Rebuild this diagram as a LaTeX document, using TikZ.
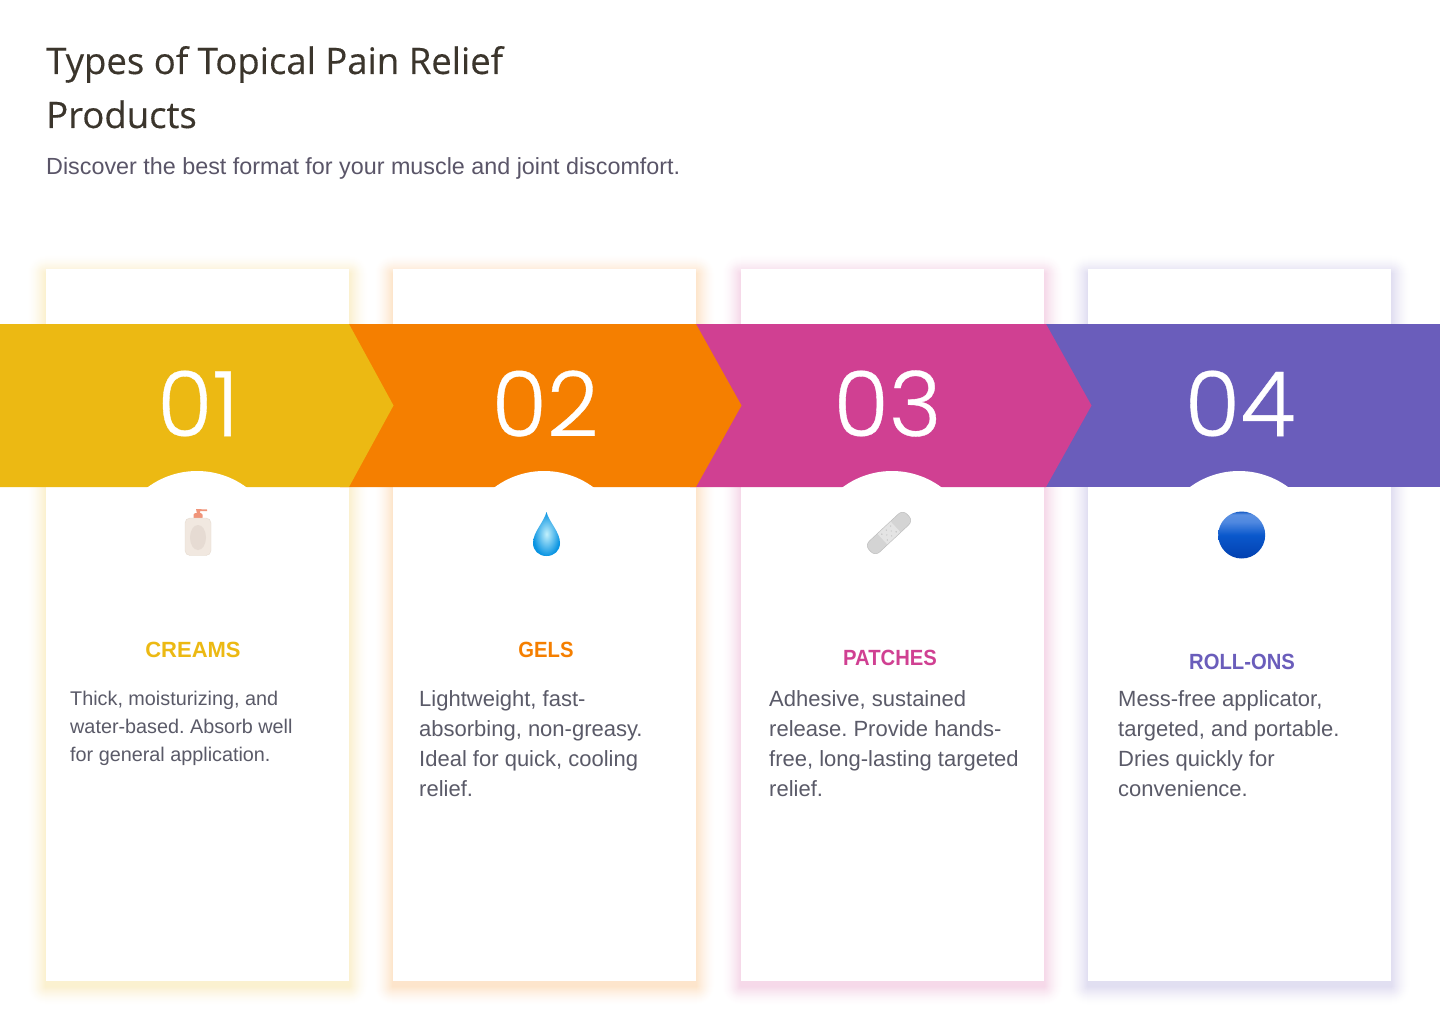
\documentclass[tikz,border=0pt]{standalone}
\usepackage{fontspec}
\setmainfont{Liberation Sans}
\frenchspacing
\newfontfamily\titlefont[FakeBold=0.25]{Open Sans}
\newfontfamily\numfont[UprightFont=* Light,FakeBold=0.4]{Poppins}
\newfontfamily\headfont[FakeStretch=0.92,UprightFont=* Bold]{Liberation Sans}
\newfontfamily\headwide[UprightFont=* Bold]{Liberation Sans}
\definecolor{cyel}{HTML}{ECB913}
\definecolor{cora}{HTML}{F57F00}
\definecolor{cmag}{HTML}{D04092}
\definecolor{cpur}{HTML}{6A5DBB}
\definecolor{ctitle}{HTML}{3B352C}
\definecolor{csub}{HTML}{5A5568}
\definecolor{cbody}{HTML}{5A5A68}
\definecolor{pump}{HTML}{F0957A}
\definecolor{bottlebody}{HTML}{F1E8E0}
\definecolor{bottleedge}{HTML}{E6DBD0}
\definecolor{bottleoval}{HTML}{E6DBD3}
\definecolor{dropin}{HTML}{C2F0FC}
\definecolor{dropout}{HTML}{0A94E2}
\definecolor{bandcol}{HTML}{D4D4D4}
\definecolor{bandedge}{HTML}{BEBEBE}
\definecolor{padcol}{HTML}{E4E4E4}
\definecolor{dotcol}{HTML}{A8A8A8}
\definecolor{ballA}{HTML}{0240B0}
\definecolor{ballB}{HTML}{0A58CC}
\definecolor{ballC}{HTML}{4F88E0}
\definecolor{ballD}{HTML}{5A90E2}
\definecolor{ballE}{HTML}{1459C4}
\pgfdeclareverticalshading{ballsh}{100bp}{
  color(0bp)=(ballA);
  color(25bp)=(ballA);
  color(50bp)=(ballB);
  color(64bp)=(ballC);
  color(72bp)=(ballD);
  color(75bp)=(ballE);
  color(100bp)=(ballE)}
\tikzset{
  x=1pt,y=-1pt,
  numtext/.style={text=white,inner sep=0pt,font=\numfont\fontsize{90}{90}\selectfont},
  headtext/.style={inner sep=0pt,font=\headfont\fontsize{22}{26}\selectfont},
  bodytext/.style={text=cbody,inner sep=0pt,anchor=north west,align=left,font=\fontsize{22}{30}\selectfont},
  smalltext/.style={text=cbody,inner sep=0pt,anchor=north west,align=left,font=\fontsize{19.8}{28}\selectfont},
}
\newcommand{\cardshadow}[3]{% left, right, colour
  \foreach \r in {18,17,...,1}{
    \pgfmathsetmacro{\p}{20*(1-(\r-1)/18)^1.5}
    \fill[#3!\p!white,rounded corners=\r pt] (#1-\r,269+5-\r) rectangle (#2+\r,981+5+\r);
  }
  \fill[white] (#1,269) rectangle (#2,981);
}
\begin{document}
\begin{tikzpicture}
\useasboundingbox (0,0) rectangle (1440,1024);
\fill[white] (0,0) rectangle (1440,1024);
\cardshadow{46}{349}{cyel}
\cardshadow{393}{696}{cora}
\cardshadow{741}{1044}{cmag}
\cardshadow{1088}{1391}{cpur}
% chevrons
\fill[cpur] (1040,324) -- (1440,324) -- (1440,487) -- (1040,487) -- cycle;
\fill[cmag] (690,324) -- (1046,324) -- (1091.5,405.5) -- (1046,487) -- (690,487) -- cycle;
\fill[cora] (340,324) -- (696,324) -- (741.5,405.5) -- (696,487) -- (340,487) -- cycle;
\fill[cyel] (0,324) -- (349,324) -- (393.5,405.5) -- (349,487) -- (0,487) -- cycle;
% white arcs
\foreach \c in {197,544,892,1239}{
  \fill[white] (\c,554) circle[radius=83];
}
% title
\node[anchor=base west,inner sep=0pt,text=ctitle,font=\titlefont\fontsize{36.5}{54}\selectfont] (title) at (46,74) {Types of Topical Pain Relief};
\node[anchor=base west,inner sep=0pt,text=ctitle,font=\titlefont\fontsize{36.5}{54}\selectfont] (title2) at (46,128) {Products};
\node[anchor=base west,inner sep=0pt,text=csub,font=\fontsize{23.33}{28}\selectfont] (sub) at (46,174.5) {Discover the best format for your muscle and joint discomfort.};
% numbers
\node[numtext] (n1) at (198,403.5) {01};
\node[numtext] (n2) at (545,403.5) {02};
\node[numtext] (n3) at (887.5,403.5) {03};
\node[numtext] (n4) at (1240,403.5) {04};
% headings
\node[headtext,text=cyel,font=\headwide\fontsize{22}{26}\selectfont] (h1) at (193,650) {CREAMS};
\node[headtext,text=cora] (h2) at (546,650) {GELS};
\node[headtext,text=cmag] (h3) at (890,658) {PATCHES};
\node[headtext,text=cpur] (h4) at (1242,662) {ROLL-ONS};
% body
\node[smalltext] (b1) at (70,690.5) {Thick, moisturizing, and\\water-based. Absorb well\\for general application.};
\node[bodytext] (b2) at (419,690) {Lightweight, fast-\\absorbing, non-greasy.\\Ideal for quick, cooling\\relief.};
\node[bodytext] (b3) at (769,690) {Adhesive, sustained\\release. Provide hands-\\free, long-lasting targeted\\relief.};
\node[bodytext] (b4) at (1118,690) {Mess-free applicator,\\targeted, and portable.\\Dries quickly for\\convenience.};
% bottle icon
\fill[pump] (196,509) -- (207,509.5) -- (207,511) -- (200,511) -- (200,514) -- (197,514) -- cycle;
\fill[pump,rounded corners=1.5pt] (193.5,513) rectangle (202.5,519);
\draw[fill=bottlebody,draw=bottleedge,line width=.4pt,rounded corners=5pt] (185,518) rectangle (211,555.5);
\fill[bottleoval] (198,537.5) ellipse[x radius=8,y radius=12.5];
% drop icon
\shade[inner color=dropin,outer color=dropout] (546.5,512) .. controls (544,522) and (533,532) .. (533,543) .. controls (533,551) and (539,556) .. (546.5,556) .. controls (554,556) and (560,551) .. (560,543) .. controls (560,532) and (549,522) .. (546.5,512) -- cycle;
% bandage icon
\begin{scope}[shift={(889,533)},rotate=43]
  \draw[fill=bandcol,draw=bandedge,line width=.5pt,rounded corners=6pt] (-26,-7.5) rectangle (26,7.5);
  \fill[padcol] (-9,-7) rectangle (9,7);
  \foreach \a/\b in {-6/-4,0/-4,6/-4,-6/4,0/4,6/4,-3/0,3/0}{\fill[dotcol] (\a,\b) circle[radius=.6];}
\end{scope}
% ball icon
\shade[shading=ballsh] (1241.7,535) circle[radius=23.5];
\end{tikzpicture}
\end{document}
